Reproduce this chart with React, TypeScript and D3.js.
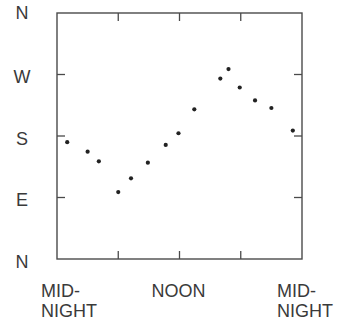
import React from 'react';
import * as d3 from 'd3';

// hour of day (0 = midnight) and wind direction in degrees (0 = N, 90 = E, 180 = S, 270 = W)
const hours = [1.0, 3.0, 4.1, 6.0, 7.25, 8.9, 10.65, 11.9, 13.45, 16.0, 16.8, 17.9, 19.4, 21.0, 23.1];
const directions = [171, 157, 143, 98, 118, 141, 167, 184, 219, 264, 278, 251, 232, 221, 188];

const dirTicks = [0, 90, 180, 270, 360];
const dirLabels = ['N', 'E', 'S', 'W', 'N'];
const hourTicks = [6, 12, 18];
const timeLabels = [
  { hour: 0, lines: ['MID-', 'NIGHT'], dx: -16 },
  { hour: 12, lines: ['NOON'], dx: -28 },
  { hour: 24, lines: ['MID-', 'NIGHT'], dx: -25 },
];

export default function App() {
  const width = 341;
  const height = 324;
  const left = 57, right = 302, top = 13, bottom = 259;

  const x = d3.scaleLinear().domain([0, 24]).range([left, right]);
  const y = d3.scaleLinear().domain([0, 360]).range([bottom, top]);

  const tickLen = 8;
  const frame = '#4a4a4a';
  const ink = '#3a3a3a';
  const font = '"Liberation Sans", Arial, Helvetica, sans-serif';

  return (
    <svg width={width} height={height} style={{ position: 'absolute', left: 0, top: 0, background: '#fff' }}>
      <rect x={left} y={top} width={right - left} height={bottom - top} fill="none" stroke={frame} strokeWidth={1.4} />

      {hourTicks.map(h => (
        <g key={'h' + h} stroke={frame} strokeWidth={1.3}>
          <line x1={x(h)} x2={x(h)} y1={top} y2={top + tickLen} />
          <line x1={x(h)} x2={x(h)} y1={bottom} y2={bottom - tickLen} />
        </g>
      ))}

      {dirTicks.slice(1, -1).map(d => (
        <g key={'d' + d} stroke={frame} strokeWidth={1.3}>
          <line x1={left} x2={left + tickLen} y1={y(d)} y2={y(d)} />
          <line x1={right} x2={right - tickLen} y1={y(d)} y2={y(d)} />
        </g>
      ))}

      {dirTicks.map((d, i) => (
        <text key={'l' + i} x={22} y={y(d) + (i === dirTicks.length - 1 ? 5.5 : 8.5)}
          textAnchor="middle" fontFamily={font} fontSize={18} fill={ink}>
          {dirLabels[i]}
        </text>
      ))}

      {timeLabels.map((t, i) => (
        <text key={'t' + i} x={x(t.hour) + t.dx} y={297} fontFamily={font} fontSize={18} fill={ink}>
          {t.lines.map((s, j) => (
            <tspan key={j} x={x(t.hour) + t.dx} dy={j === 0 ? 0 : 20}>{s}</tspan>
          ))}
        </text>
      ))}

      {hours.map((h, i) => (
        <circle key={'p' + i} cx={x(h)} cy={y(directions[i])} r={2.1} fill="#222" />
      ))}
    </svg>
  );
}
